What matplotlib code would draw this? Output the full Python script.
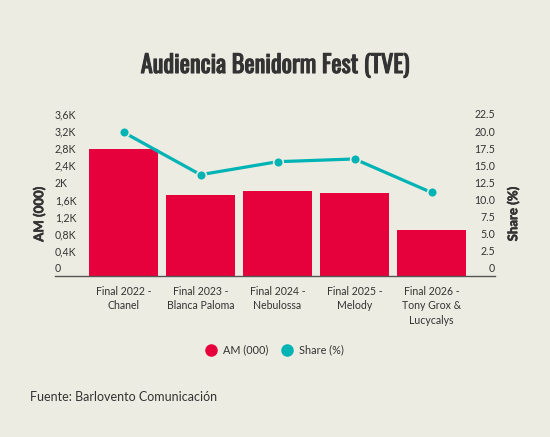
import matplotlib
matplotlib.use("Agg")
import matplotlib.pyplot as plt
from matplotlib.lines import Line2D
from matplotlib import transforms as mtrans
from matplotlib import font_manager as fm
from matplotlib import patheffects as pe

# ---- data ----
categories = ["Final 2022 -\nChanel", "Final 2023 -\nBlanca Paloma", "Final 2024 -\nNebulossa",
              "Final 2025 -\nMelody", "Final 2026 -\nTony Grox &\nLucycalys"]
am_thousands = [2970, 1893, 1994, 1940, 1075]
share_pct = [21.0, 14.8, 16.7, 17.1, 12.2]
left_ticks = [0, 400, 800, 1200, 1600, 2000, 2400, 2800, 3200, 3600]
left_labels = ["0", "0,4K", "0,8K", "1,2K", "1,6K", "2K", "2,4K", "2,8K", "3,2K", "3,6K"]
right_ticks = [0, 2.5, 5, 7.5, 10, 12.5, 15, 17.5, 20, 22.5]
right_labels = ["0", "2.5", "5.0", "7.5", "10.0", "12.5", "15.0", "17.5", "20.0", "22.5"]

BG = "#EDECE2"
RED = "#E6003C"
TEAL = "#00B3B5"
TXT = "#333333"
FONT = ["Lato", "DejaVu Sans"]

# find a condensed font for the title
entries = fm.fontManager.ttflist
names = {e.name for e in entries}
title_kw = dict(family=["DejaVu Sans"], fontstretch="condensed")
for cand in ["Oswald", "Roboto Condensed", "Open Sans Condensed", "Liberation Sans Narrow"]:
    if cand in names:
        title_kw = dict(family=[cand, "DejaVu Sans"])
        break

W, H = 550, 437
fig = plt.figure(figsize=(W / 100, H / 100), dpi=100, facecolor=BG)
plt.rcParams["font.family"] = FONT

x0, x1, ytop, ybot = 85, 470, 122, 276
ax = fig.add_axes([x0 / W, 1 - ybot / H, (x1 - x0) / W, (ybot - ytop) / H])
ax.set_facecolor(BG)
ax.patch.set_alpha(0)
ax2 = ax.twinx()

xs = list(range(len(categories)))
ax.bar(xs, am_thousands, width=0.9, color=RED, zorder=2)
ax.set_xlim(-0.5, len(categories) - 0.5)
ax.set_ylim(0, 3600)
ax2.set_ylim(0, 22.5)
ax2.plot(xs, share_pct, color=TEAL, lw=2.3, marker="o", markersize=7,
         markerfacecolor=TEAL, markeredgecolor=BG, markeredgewidth=1.2, zorder=3, clip_on=False)

for a in (ax, ax2):
    for s in a.spines.values():
        s.set_visible(False)
    a.tick_params(axis="y", left=False, right=False, labelleft=False, labelright=False)

ax.set_xticks(xs)
ax.set_xticklabels(categories, fontsize=7.6, color=TXT, linespacing=1.4)
ax.tick_params(axis="x", length=0, pad=7)

fig.add_artist(Line2D([55 / W, 495 / W], [1 - ybot / H, 1 - ybot / H], color="#555555", lw=1.0))

off = mtrans.ScaledTranslation(0, 7 / 100, fig.dpi_scale_trans)
tl = mtrans.blended_transform_factory(fig.transFigure, ax.transData) + off
tr = mtrans.blended_transform_factory(fig.transFigure, ax2.transData) + off
for v, lab in zip(left_ticks, left_labels):
    fig.text(55 / W, v, lab, transform=tl, ha="left", va="center", fontsize=7.6, color=TXT)
for v, lab in zip(right_ticks, right_labels):
    fig.text(495 / W, v, lab, transform=tr, ha="right", va="center", fontsize=7.6, color=TXT)

lbl_fx = [pe.withStroke(linewidth=0.4, foreground=TXT)]
fig.text(39 / W, 1 - 214 / H, "AM (000)", rotation=90, ha="center", va="center",
         fontsize=9.5, fontweight="bold", color=TXT, path_effects=lbl_fx)
fig.text(513 / W, 1 - 214 / H, "Share (%)", rotation=90, ha="center", va="center",
         fontsize=9.5, fontweight="bold", color=TXT, path_effects=lbl_fx)

fig.text(0.5, 1 - 66 / H, "Audiencia Benidorm Fest (TVE)", ha="center", va="center",
         fontsize=17.5, fontweight="bold", color=TXT,
         path_effects=[pe.withStroke(linewidth=0.8, foreground=TXT)], **title_kw)

handles = [Line2D([], [], ls="none", marker="o", markersize=8, color=RED),
           Line2D([], [], ls="none", marker="o", markersize=8, color=TEAL)]
fig.legend(handles, ["AM (000)", "Share (%)"], loc="center", bbox_to_anchor=(0.5, 1 - 350 / H),
           ncol=2, frameon=False, fontsize=7.8, handletextpad=0.6, columnspacing=1.2,
           labelcolor=TXT, handlelength=1.0)

fig.text(30 / W, 1 - 397 / H, "Fuente: Barlovento Comunicación", ha="left", va="center",
         fontsize=9, color=TXT)

fig.savefig("out.png", dpi=100, facecolor=BG)
